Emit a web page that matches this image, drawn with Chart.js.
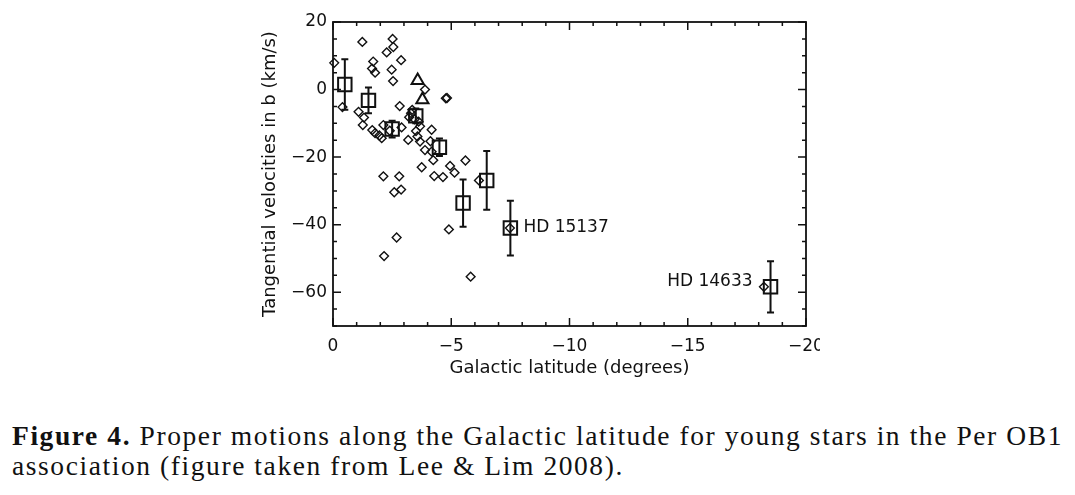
<!DOCTYPE html>
<html>
<head>
<meta charset="utf-8">
<script src="https://cdn.jsdelivr.net/npm/chart.js@4.4.0/dist/chart.umd.min.js"></script>
<style>
  html, body { margin: 0; padding: 0; background: #fff; }
  body { width: 1075px; height: 495px; position: relative; overflow: hidden; }
  #wrap { position: absolute; left: 0; top: 0; width: 820px; height: 385px; }
  #caption { position: absolute; left: 12px; top: 421px;
             font-family: "Liberation Serif", "Times New Roman", Times, serif;
             font-size: 27.5px; line-height: 30px; color: #111; white-space: nowrap; }
  #caption b { font-weight: bold; }
</style>
</head>
<body>
<div id="wrap"><canvas id="chart"></canvas></div>
<div id="caption">
  <div id="cap1"><b>Figure 4.</b> Proper motions along the Galactic latitude for young stars in the Per OB1</div>
  <div id="cap2">association (figure taken from Lee &amp; Lim 2008).</div>
</div>
<script>
// individual stars (diamonds)
const starLat = [-0.05, -1.24, -2.52, -2.55, -2.27, -1.70, -1.65, -1.78, -2.48, -2.54, -2.88,
  -0.40, -1.08, -1.31, -1.26, -1.66, -1.78, -2.06, -1.96, -2.13, -2.82, -2.90, -3.22, -3.30,
  -3.18, -3.51, -3.57, -3.89, -3.35, -3.68, -4.17, -3.68, -4.12, -3.89, -4.17, -4.24, -3.75,
  -4.28, -4.65, -4.95, -5.14, -5.60, -6.17, -2.13, -2.80, -2.59, -2.88, -4.90, -2.69, -2.16,
  -5.82, -7.48, -18.22, -4.77, -4.82, -3.45, -2.40, -3.62];
const starVel = [7.9, 14.1, 15.0, 12.6, 11.0, 8.3, 6.2, 5.0, 5.9, 2.5, 8.7,
  -5.2, -6.6, -8.3, -10.5, -12.0, -12.9, -14.4, -13.6, -10.5, -4.9, -11.2, -8.2, -7.0,
  -14.9, -12.3, -13.9, 0.0, -6.0, -10.9, -11.9, -15.4, -15.3, -17.9, -18.4, -20.9, -23.0,
  -25.6, -25.9, -22.6, -24.6, -21.0, -26.9, -25.7, -25.7, -30.4, -29.6, -41.4, -43.8, -49.3,
  -55.4, -41.0, -58.4, -2.6, -2.5, -8.8, -12.2, -9.5];

// binned means (squares) with errors
const meanLat = [-0.5, -1.5, -2.5, -3.5, -4.5, -5.5, -6.5, -7.5, -18.5];
const meanVel = [1.5, -3.2, -11.7, -7.8, -17.1, -33.6, -26.9, -41.0, -58.4];
const meanErr = [7.5, 3.8, 2.5, 2.2, 2.6, 7.0, 8.7, 8.1, 7.6];

// triangles
const triLat = [-3.58, -3.78];
const triVel = [2.7, -3.0];

// named stars
const labelNames = ['HD 15137', 'HD 14633'];
const labelLat = [-7.5, -18.5];
const labelVel = [-41.0, -58.4];

const xTicks = [0, -5, -10, -15, -20];
const yTicks = [-60, -40, -20, 0, 20];

const INK = '#111';
const FONT = '"DejaVu Sans", sans-serif';

const toPts = (xs, ys) => xs.map((x, i) => ({ x: x, y: ys[i] }));
const fmt = v => v < 0 ? '\u2212' + Math.abs(v) : String(v);

// frame, inward ticks, error bars and star names
const idlPlugin = {
    id: 'idl',
    afterDatasetsDraw(chart) {
        const ctx = chart.ctx;
        const xs = chart.scales.x, ys = chart.scales.y;
        const a = chart.chartArea;
        ctx.save();
        ctx.strokeStyle = INK;
        ctx.fillStyle = INK;

        // error bars
        ctx.lineWidth = 2;
        meanLat.forEach((lat, i) => {
            const px = xs.getPixelForValue(lat);
            const top = ys.getPixelForValue(meanVel[i] + meanErr[i]);
            const bot = ys.getPixelForValue(meanVel[i] - meanErr[i]);
            ctx.beginPath();
            ctx.moveTo(px, top); ctx.lineTo(px, bot);
            ctx.moveTo(px - 3.5, top); ctx.lineTo(px + 3.5, top);
            ctx.moveTo(px - 3.5, bot); ctx.lineTo(px + 3.5, bot);
            ctx.stroke();
        });

        // frame
        ctx.lineWidth = 1.8;
        ctx.strokeRect(a.left, a.top, a.right - a.left, a.bottom - a.top);

        // ticks on all four sides, pointing in
        ctx.lineWidth = 1.5;
        ctx.beginPath();
        for (let v = 0; v >= -20; v -= 1) {
            const px = xs.getPixelForValue(v);
            const len = xTicks.includes(v) ? 8 : 4;
            ctx.moveTo(px, a.bottom); ctx.lineTo(px, a.bottom - len);
            ctx.moveTo(px, a.top); ctx.lineTo(px, a.top + len);
        }
        for (let v = -70; v <= 20; v += 5) {
            const py = ys.getPixelForValue(v);
            const len = yTicks.includes(v) ? 8 : 4;
            ctx.moveTo(a.left, py); ctx.lineTo(a.left + len, py);
            ctx.moveTo(a.right, py); ctx.lineTo(a.right - len, py);
        }
        ctx.stroke();

        // star names
        ctx.font = '17px ' + FONT;
        ctx.textBaseline = 'middle';
        labelNames.forEach((name, i) => {
            const px = xs.getPixelForValue(labelLat[i]);
            const py = ys.getPixelForValue(labelVel[i]);
            if (i === 0) { ctx.textAlign = 'left'; ctx.fillText(name, px + 13, py); }
            else { ctx.textAlign = 'right'; ctx.fillText(name, px - 18, py - 5); }
        });
        ctx.restore();
    }
};

const chart = new Chart(document.getElementById('chart'), {
    type: 'scatter',
    data: {
        datasets: [
            {
                data: toPts(starLat, starVel),
                pointStyle: 'rectRot', pointRadius: 4.4,
                borderColor: INK, backgroundColor: 'rgba(0,0,0,0)', borderWidth: 1.4,
                clip: false
            },
            {
                data: toPts(meanLat, meanVel),
                pointStyle: 'rect', pointRadius: 9.5,
                borderColor: INK, backgroundColor: 'rgba(0,0,0,0)', borderWidth: 2,
                clip: false
            },
            {
                data: toPts(triLat, triVel),
                pointStyle: 'triangle', pointRadius: 7,
                borderColor: INK, backgroundColor: 'rgba(0,0,0,0)', borderWidth: 2,
                clip: false
            }
        ]
    },
    options: {
        responsive: true,
        maintainAspectRatio: false,
        animation: false,
        layout: { padding: { left: 258, top: 22, right: 14, bottom: 0 } },
        plugins: { legend: { display: false }, tooltip: { enabled: false } },
        elements: { point: { hoverRadius: 0 } },
        scales: {
            x: {
                type: 'linear', min: -20, max: 0, reverse: true,
                grid: { display: false, drawTicks: false },
                border: { display: false },
                afterBuildTicks: s => { s.ticks = xTicks.map(v => ({ value: v })); },
                afterFit: s => { s.height = 59; s.paddingLeft = 0; s.paddingRight = 0; },
                ticks: { color: INK, font: { family: FONT, size: 17 }, padding: 10,
                         maxRotation: 0, autoSkip: false, callback: fmt },
                title: { display: true, text: 'Galactic latitude (degrees)', color: INK,
                         font: { family: FONT, size: 18 }, padding: { top: 0, bottom: 6 } }
            },
            y: {
                type: 'linear', min: -70, max: 20,
                grid: { display: false, drawTicks: false },
                border: { display: false },
                afterBuildTicks: s => { s.ticks = yTicks.map(v => ({ value: v })); },
                afterFit: s => { s.width = 75; s.paddingTop = 0; s.paddingBottom = 0; },
                ticks: { color: INK, font: { family: FONT, size: 17 }, padding: 6,
                         autoSkip: false, callback: fmt },
                title: { display: true, text: 'Tangential velocities in b (km/s)', color: INK,
                         font: { family: FONT, size: 18 }, padding: { top: 2, bottom: 0 } }
            }
        }
    },
    plugins: [idlPlugin]
});

// stretch the caption so its first line spans the same width as the figure caption
const cap1 = document.getElementById('cap1');
const w1 = cap1.getBoundingClientRect().width;
const n1 = cap1.textContent.length;
document.getElementById('caption').style.letterSpacing = ((1051 - w1) / n1) + 'px';
</script>
</body>
</html>
